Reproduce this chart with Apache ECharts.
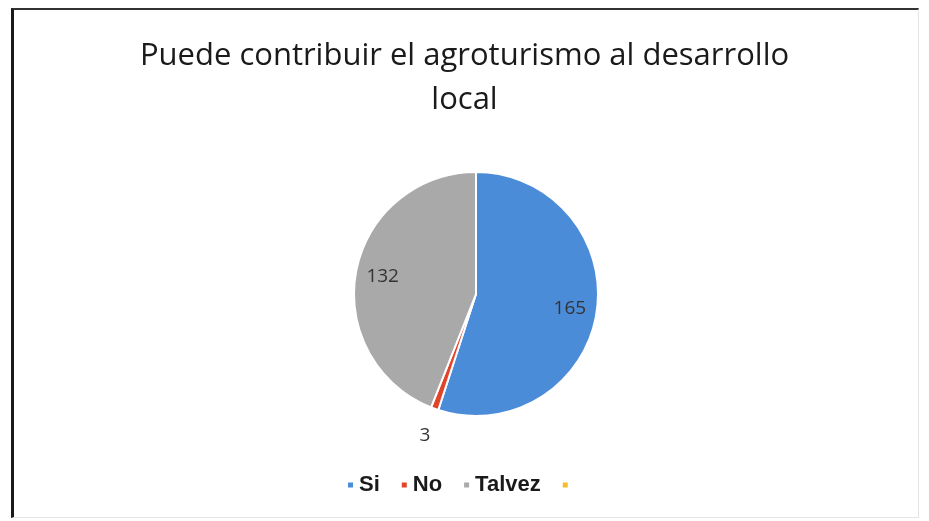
<!DOCTYPE html>
<html>
<head>
<meta charset="utf-8">
<script src="https://cdn.jsdelivr.net/npm/echarts@6/dist/echarts.min.js"></script>
<style>
html,body{margin:0;padding:0;background:#fff;}
#wrap{position:relative;width:929px;height:521px;}
#chart{position:absolute;left:0;top:0;width:929px;height:521px;}
#frame{position:absolute;left:11px;top:8px;width:904px;height:507px;border-left:3px solid #1a1a1a;border-top:2px solid #333;border-right:1px solid #e6e6e6;border-bottom:1px solid #e6e6e6;pointer-events:none;}
</style>
</head>
<body>
<div id="wrap"><div id="chart"></div><div id="frame"></div></div>
<script>
var titleText = 'Puede contribuir el agroturismo al desarrollo\nlocal';
var categories = ['Si', 'No', 'Talvez', ' '];
var values = [165, 3, 132, 0];
var colors = ['#4b8cd9', '#e0452b', '#a9a9a9', '#f6bd2a'];
var outsideLabelCategory = 'No';

var chart = echarts.init(document.getElementById('chart'));
var mainData = categories.map(function (c, i) {
  return { name: c, value: values[i], itemStyle: { color: colors[i] } };
});
var insideLabelData = categories.map(function (c, i) {
  var d = { name: c, value: values[i] };
  if (c === outsideLabelCategory || values[i] === 0) d.label = { show: false };
  return d;
});
var outsideLabelData = categories.map(function (c, i) {
  var d = { name: c, value: values[i] };
  if (c !== outsideLabelCategory) d.label = { show: false };
  return d;
});
var labelFont = { fontFamily: 'Open Sans', fontSize: 19, color: '#333' };
chart.setOption({
  backgroundColor: '#fff',
  animation: false,
  title: {
    text: titleText,
    left: 'center',
    top: 29,
    textStyle: { fontFamily: 'Open Sans', fontWeight: 'normal', fontSize: 31, color: '#1a1a1a', lineHeight: 44 }
  },
  legend: {
    data: categories,
    top: 469,
    left: 341,
    icon: 'rect',
    itemWidth: 7,
    itemHeight: 7,
    itemGap: 20,
    textStyle: { fontFamily: 'Liberation Sans', fontWeight: 'bold', fontSize: 22, color: '#1a1a1a' }
  },
  series: [
    {
      type: 'pie',
      center: [476, 294],
      radius: [0, 122],
      startAngle: 90,
      clockwise: true,
      data: mainData,
      itemStyle: { borderColor: '#fff', borderWidth: 2 },
      label: { show: false },
      labelLine: { show: false }
    },
    {
      type: 'pie',
      center: [476, 294],
      radius: [62, 122],
      startAngle: 90,
      clockwise: true,
      silent: true,
      data: insideLabelData,
      itemStyle: { color: 'rgba(0,0,0,0)' },
      label: Object.assign({ show: true, position: 'inside', formatter: '{c}' }, labelFont),
      labelLine: { show: false }
    },
    {
      type: 'pie',
      center: [476, 294],
      radius: [140, 156],
      startAngle: 90,
      clockwise: true,
      silent: true,
      data: outsideLabelData,
      itemStyle: { color: 'rgba(0,0,0,0)' },
      label: Object.assign({ show: true, position: 'inside', formatter: '{c}' }, labelFont),
      labelLine: { show: false }
    }
  ]
});
</script>
</body>
</html>
